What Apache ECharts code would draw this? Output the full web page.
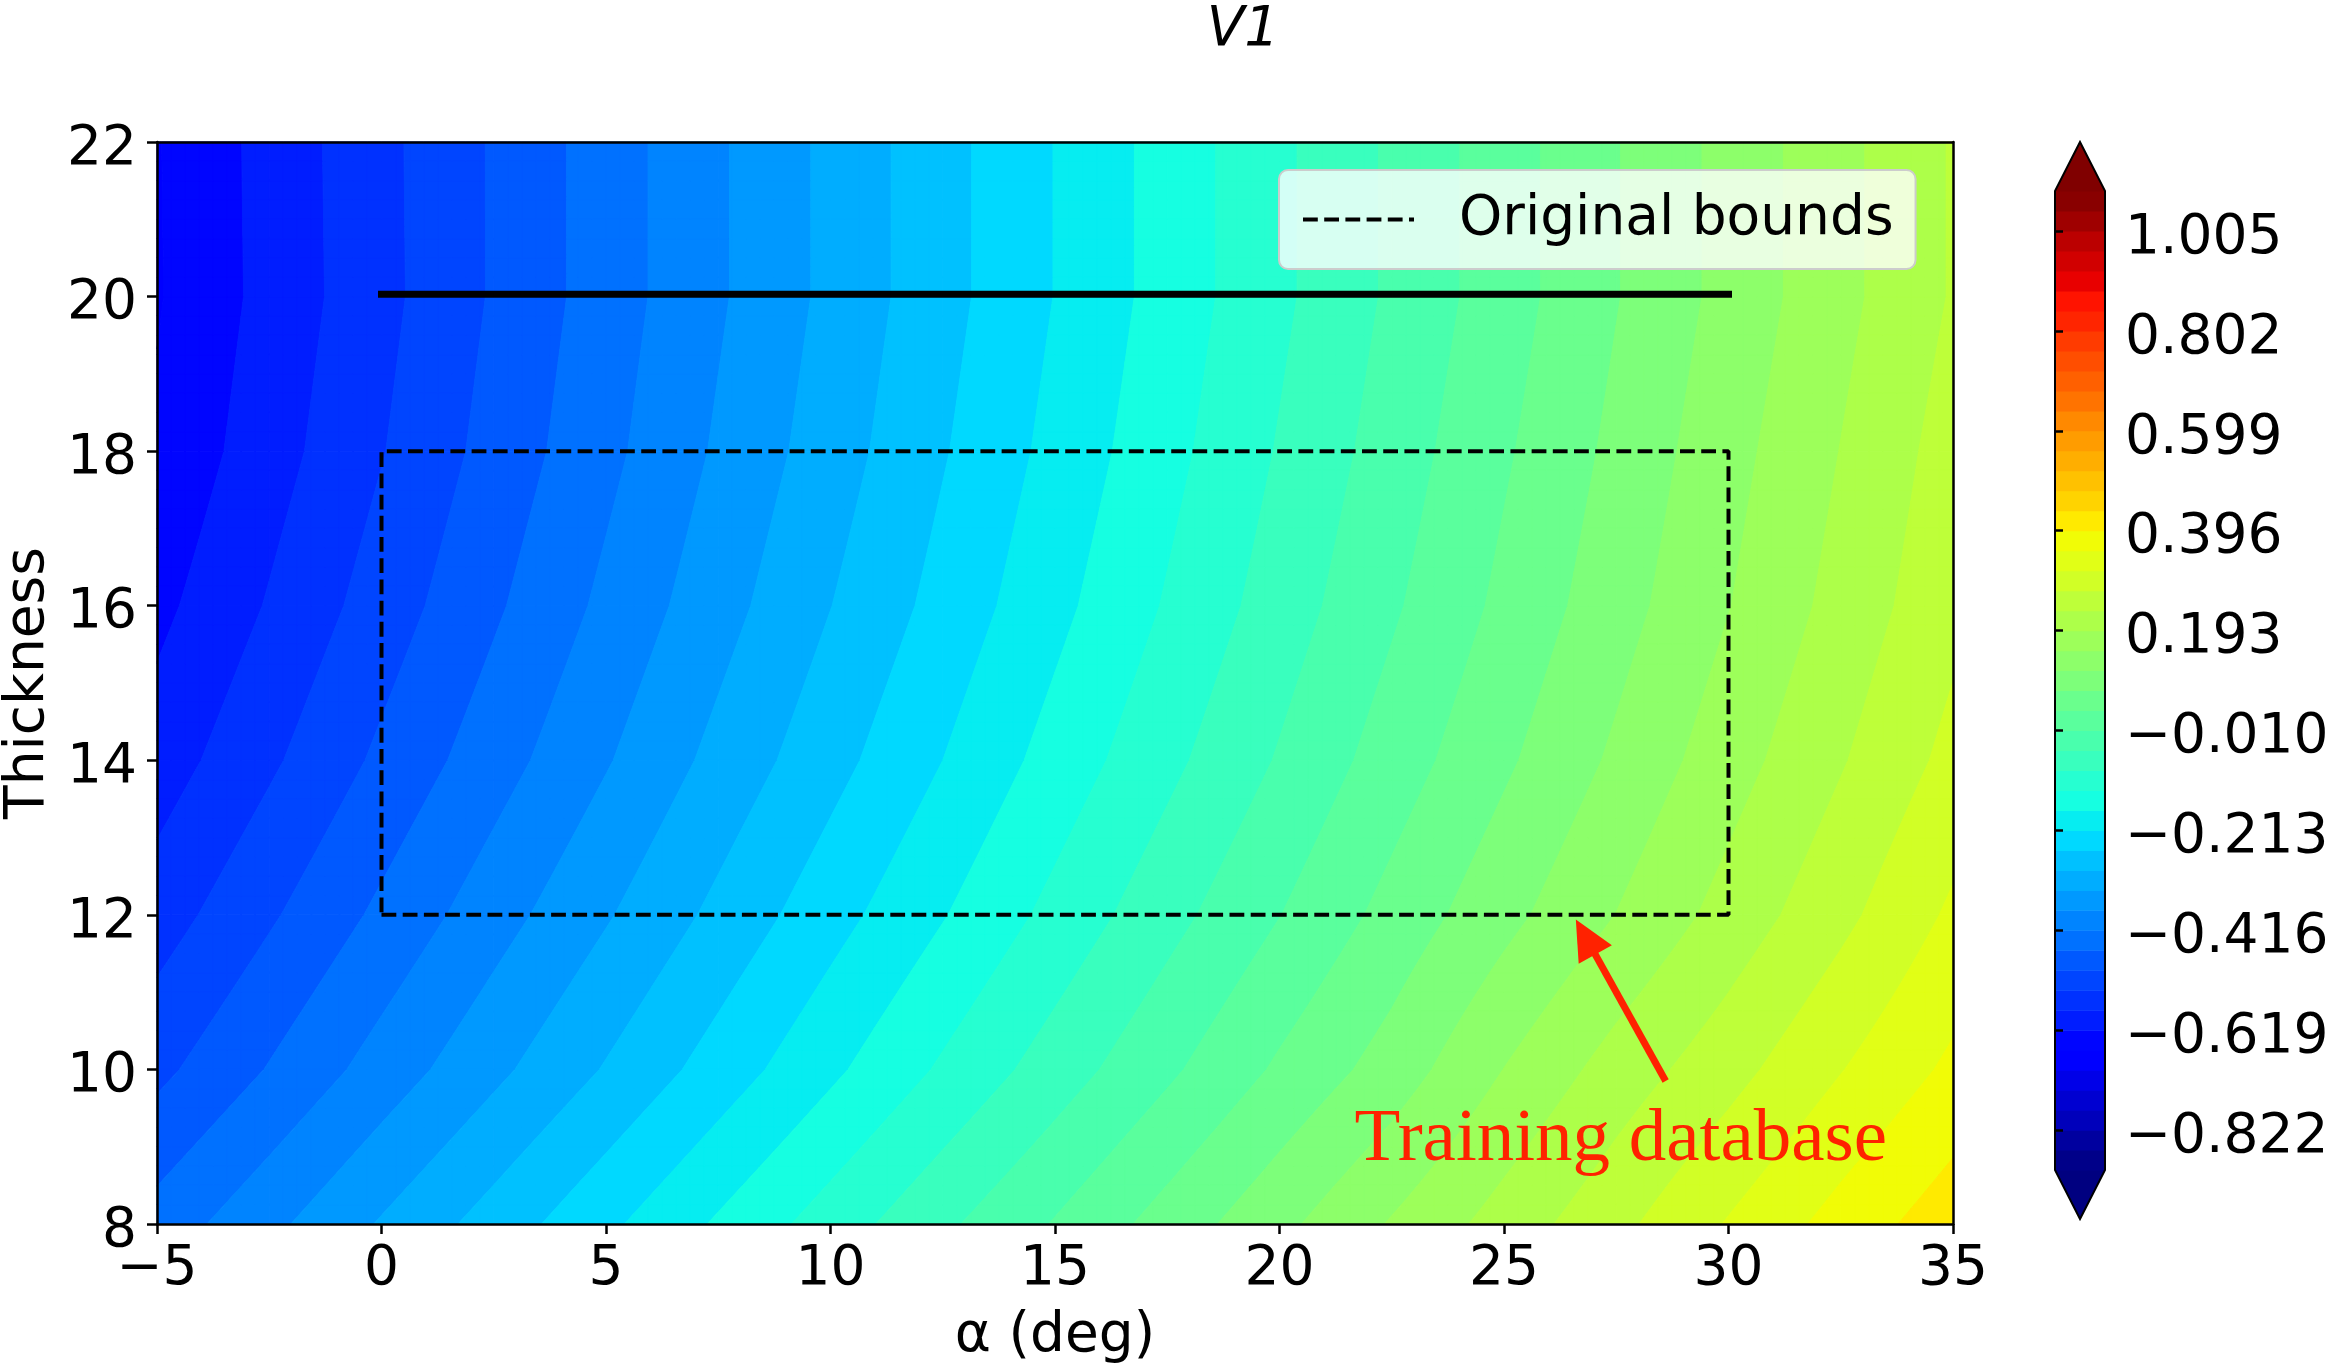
<!DOCTYPE html>
<html>
<head>
<meta charset="utf-8">
<script src="https://cdn.jsdelivr.net/npm/echarts@6/dist/echarts.min.js"></script>
<style>
html,body{margin:0;padding:0;background:#ffffff;}
#chart{width:2336px;height:1364px;}
</style>
</head>
<body>
<div id="chart"></div>
<script>
// ---------------- data ----------------
const alphaGrid = [-5, -2.5, 0, 2.5, 5, 7.5, 10, 12.5, 15, 17.5, 20, 22.5, 25, 27.5, 30, 32.5, 35];
const thicknessGrid = [8, 10, 12, 14, 16, 18, 20, 22];

// V1 values on the grid (one array per thickness row, along alphaGrid)
const v1AtT8  = [-0.440, -0.386, -0.331, -0.277, -0.222, -0.167, -0.113, -0.059, -0.007, 0.047, 0.101, 0.156, 0.210, 0.263, 0.318, 0.371, 0.420];
const v1AtT10 = [-0.508, -0.454, -0.399, -0.345, -0.291, -0.236, -0.181, -0.126, -0.072, -0.018, 0.037, 0.089, 0.153, 0.210, 0.259, 0.313, 0.364];
const v1AtT12 = [-0.558, -0.503, -0.448, -0.393, -0.339, -0.284, -0.229, -0.175, -0.120, -0.065, -0.011, 0.044, 0.099, 0.153, 0.208, 0.263, 0.322];
const v1AtT14 = [-0.600, -0.545, -0.489, -0.434, -0.379, -0.323, -0.268, -0.213, -0.157, -0.102, -0.047, 0.009, 0.064, 0.119, 0.175, 0.230, 0.286];
const v1AtT16 = [-0.630, -0.575, -0.519, -0.463, -0.407, -0.351, -0.295, -0.240, -0.184, -0.128, -0.072, -0.016, 0.040, 0.095, 0.151, 0.207, 0.263];
const v1AtT18 = [-0.653, -0.596, -0.540, -0.483, -0.427, -0.370, -0.314, -0.257, -0.201, -0.145, -0.088, -0.032, 0.025, 0.081, 0.138, 0.194, 0.251];
const v1AtT20 = [-0.663, -0.606, -0.550, -0.493, -0.437, -0.381, -0.325, -0.268, -0.212, -0.156, -0.100, -0.044, 0.012, 0.069, 0.125, 0.181, 0.237];
const v1AtT22 = [-0.662, -0.605, -0.549, -0.493, -0.437, -0.381, -0.325, -0.268, -0.212, -0.156, -0.100, -0.044, 0.012, 0.069, 0.125, 0.181, 0.237];
const v1Rows = [v1AtT8, v1AtT10, v1AtT12, v1AtT14, v1AtT16, v1AtT18, v1AtT20, v1AtT22];

// contour levels / colorbar
const levelMin = -0.9032;
const levelMax = 1.0862;
const levelBands = 49;
const colorbarTicks = [-0.822, -0.619, -0.416, -0.213, -0.010, 0.193, 0.396, 0.599, 0.802, 1.005];

// annotations
const boundsAlpha = [0, 30, 30, 0, 0];
const boundsThickness = [12, 12, 18, 18, 12];
const solidAlpha = [0, 30];
const solidThickness = [20.03, 20.03];
const arrowTail = [28.6, 9.85];
const arrowTip = [26.6, 11.94];
const noteText = 'Training database';
const notePos = [27.6, 9.08];

// ---------------- helpers ----------------
const FONT = 'DejaVu Sans';
const levelStep = (levelMax - levelMin) / levelBands;
function levelValue(k) { return levelMin + k * levelStep; }

const JET_R = [[0, 0], [0.35, 0], [0.66, 1], [0.89, 1], [1, 0.5]];
const JET_G = [[0, 0], [0.125, 0], [0.375, 1], [0.64, 1], [0.91, 0], [1, 0]];
const JET_B = [[0, 0.5], [0.11, 1], [0.34, 1], [0.65, 0], [1, 0]];
function seg(pts, x) {
  for (let i = 1; i < pts.length; i++) {
    if (x <= pts[i][0]) {
      const a = pts[i - 1], b = pts[i];
      return a[1] + (b[1] - a[1]) * (x - a[0]) / (b[0] - a[0]);
    }
  }
  return pts[pts.length - 1][1];
}
function jet(x) {
  const idx = Math.min(255, Math.max(0, Math.floor(x * 256)));
  const s = idx / 255;
  return 'rgb(' + Math.round(255 * seg(JET_R, s)) + ',' + Math.round(255 * seg(JET_G, s)) + ',' + Math.round(255 * seg(JET_B, s)) + ')';
}
const bandColors = [];
for (let k = 0; k < levelBands; k++) bandColors.push(jet((k + 0.5) / levelBands));
const underColor = jet(0), overColor = jet(1);
function colorOfBand(k) { return k < 0 ? underColor : (k >= levelBands ? overColor : bandColors[k]); }
function bandOf(v) { return Math.max(-1, Math.min(levelBands, Math.floor((v - levelMin) / levelStep))); }

function clipPoly(poly, lev, keepAbove) {
  const out = [];
  for (let i = 0; i < poly.length; i++) {
    const a = poly[i], b = poly[(i + 1) % poly.length];
    const ina = keepAbove ? a[2] >= lev : a[2] <= lev;
    const inb = keepAbove ? b[2] >= lev : b[2] <= lev;
    if (ina) out.push(a);
    if (ina !== inb) {
      const t = (lev - a[2]) / (b[2] - a[2]);
      out.push([a[0] + t * (b[0] - a[0]), a[1] + t * (b[1] - a[1]), lev]);
    }
  }
  return out;
}

// cells of the grid
const cellData = [];
for (let j = 0; j < thicknessGrid.length - 1; j++) {
  for (let i = 0; i < alphaGrid.length - 1; i++) {
    cellData.push([alphaGrid[i], thicknessGrid[j], i, j]);
  }
}

function renderCell(params, api) {
  const i = api.value(2), j = api.value(3);
  const a0 = alphaGrid[i], a1 = alphaGrid[i + 1];
  const t0 = thicknessGrid[j], t1 = thicknessGrid[j + 1];
  const v00 = v1Rows[j][i], v10 = v1Rows[j][i + 1], v01 = v1Rows[j + 1][i], v11 = v1Rows[j + 1][i + 1];
  const P0 = api.coord([a0, t0]);
  const P1 = api.coord([a1, t1]);
  const S = 8;
  const pts = [];
  for (let q = 0; q <= S; q++) {
    for (let p = 0; p <= S; p++) {
      const u = p / S, w = q / S;
      pts.push([
        P0[0] + u * (P1[0] - P0[0]),
        P0[1] + w * (P1[1] - P0[1]),
        v00 * (1 - u) * (1 - w) + v10 * u * (1 - w) + v01 * (1 - u) * w + v11 * u * w
      ]);
    }
  }
  const paths = {};
  function add(k, poly) {
    let s = 'M' + poly[0][0].toFixed(2) + ' ' + poly[0][1].toFixed(2);
    for (let n = 1; n < poly.length; n++) s += 'L' + poly[n][0].toFixed(2) + ' ' + poly[n][1].toFixed(2);
    s += 'Z';
    paths[k] = (paths[k] || '') + s;
  }
  function doTri(tri) {
    let mn = Infinity, mx = -Infinity;
    for (const p of tri) { mn = Math.min(mn, p[2]); mx = Math.max(mx, p[2]); }
    const k0 = bandOf(mn), k1 = bandOf(mx);
    if (k0 === k1) { add(k0, tri); return; }
    for (let k = k0; k <= k1; k++) {
      let poly = tri;
      if (k > -1) poly = clipPoly(poly, levelValue(k), true);
      if (poly.length >= 3 && k < levelBands) poly = clipPoly(poly, levelValue(k + 1), false);
      if (poly.length >= 3) add(k, poly);
    }
  }
  for (let q = 0; q < S; q++) {
    for (let p = 0; p < S; p++) {
      const A = pts[q * (S + 1) + p], B = pts[q * (S + 1) + p + 1];
      const C = pts[(q + 1) * (S + 1) + p + 1], D = pts[(q + 1) * (S + 1) + p];
      doTri([A, B, C]);
      doTri([A, C, D]);
    }
  }
  const children = Object.keys(paths).map(function (k) {
    const c = colorOfBand(+k);
    return { type: 'path', shape: { pathData: paths[k] }, style: { fill: c, stroke: c, lineWidth: 1 } };
  });
  return { type: 'group', children: children };
}

// colorbar items: -1 = under triangle, 0..48 bands, 49 = over triangle, 50 = outline
const colorbarData = [];
for (let k = -1; k <= levelBands + 1; k++) colorbarData.push([0.5, levelValue(Math.max(0, Math.min(levelBands, k))), k]);
const extendFrac = 0.05;
function renderColorbar(params, api) {
  const k = api.value(2);
  const span = levelMax - levelMin;
  if (k >= 0 && k < levelBands) {
    const p0 = api.coord([0, levelValue(k)]);
    const p1 = api.coord([1, levelValue(k + 1)]);
    return { type: 'rect', shape: { x: p0[0], y: p1[1], width: p1[0] - p0[0], height: p0[1] - p1[1] + 0.6 },
      style: { fill: bandColors[k], stroke: null } };
  }
  const bl = api.coord([0, levelMin]), br = api.coord([1, levelMin]);
  const tl = api.coord([0, levelMax]), tr = api.coord([1, levelMax]);
  const bt = api.coord([0.5, levelMin - extendFrac * span]);
  const tt = api.coord([0.5, levelMax + extendFrac * span]);
  if (k === -1) {
    return { type: 'polygon', shape: { points: [[bl[0], bl[1] - 0.5], [br[0], br[1] - 0.5], bt] }, style: { fill: underColor } };
  }
  if (k === levelBands) {
    return { type: 'polygon', shape: { points: [[tl[0], tl[1] + 0.5], [tr[0], tr[1] + 0.5], tt] }, style: { fill: overColor } };
  }
  return { type: 'polygon', shape: { points: [bt, bl, tl, tt, tr, br] }, style: { fill: null, stroke: '#000', lineWidth: 2 }, z2: 10 };
}

function renderArrow(params, api) {
  const P = api.coord([api.value(0), api.value(1)]);
  const Q = api.coord([api.value(2), api.value(3)]);
  const dx = Q[0] - P[0], dy = Q[1] - P[1];
  const L = Math.sqrt(dx * dx + dy * dy);
  const ux = dx / L, uy = dy / L, nx = -uy, ny = ux;
  const headL = 40, headW = 19;
  const bx = Q[0] - ux * headL, by = Q[1] - uy * headL;
  const red = '#ff2200';
  const t = api.coord(notePos);
  return { type: 'group', children: [
    { type: 'line', shape: { x1: P[0], y1: P[1], x2: bx + ux * 4, y2: by + uy * 4 }, style: { stroke: red, lineWidth: 7 } },
    { type: 'polygon', shape: { points: [Q, [bx + nx * headW, by + ny * headW], [bx - nx * headW, by - ny * headW]] }, style: { fill: red } },
    { type: 'text', x: t[0], y: t[1], style: { text: noteText, fill: red, font: '75px "Liberation Serif"', align: 'center', verticalAlign: 'middle' } }
  ] };
}

const minusFmt = function (v) { return v < 0 ? '\u2212' + String(-v) : String(v); };
const yFmt = function (v) { return '{d|' + String(v) + '}'; };
const cbFmt = function (v) { return '{d|' + (v < 0 ? '\u2212' : '') + Math.abs(v).toFixed(3) + '}'; };
const tickText = { fontSize: 55, color: '#000', fontFamily: FONT };
const shiftedRich = { d: { fontSize: 55, color: '#000', fontFamily: FONT, padding: [15, 0, 0, 0] } };

const chart = echarts.init(document.getElementById('chart'), null, { renderer: 'canvas' });
chart.setOption({
  animation: false,
  backgroundColor: '#ffffff',
  title: {
    text: 'V1', left: 1238, top: -2, textAlign: 'center',
    textStyle: { fontSize: 55, fontStyle: 'italic', fontWeight: 'normal', fontFamily: FONT, color: '#000' }
  },
  legend: {
    data: ['Original bounds'],
    left: 1279, top: 170,
    padding: [22, 22, 22, 22],
    itemWidth: 111, itemHeight: 20,
    backgroundColor: 'rgba(255,255,255,0.8)',
    borderColor: '#cccccc', borderWidth: 2, borderRadius: 9,
    itemStyle: { opacity: 0 },
    lineStyle: { color: '#000', width: 4, type: [14.8, 6.4] },
    textStyle: { fontSize: 55, color: '#000', fontFamily: FONT, padding: [0, 0, 0, 40] },
    selectedMode: false
  },
  grid: [
    { left: 157, top: 142, width: 1796, height: 1082, outerBoundsMode: 'none', containLabel: false },
    { left: 2055, top: 191, width: 50, height: 979, outerBoundsMode: 'none', containLabel: false }
  ],
  xAxis: [
    { gridIndex: 0, type: 'value', min: -5, max: 35, interval: 5, position: 'bottom', z: 5,
      axisLine: { onZero: false, lineStyle: { color: '#000', width: 2.5 } },
      axisTick: { length: 10, lineStyle: { color: '#000', width: 2.5 } },
      axisLabel: Object.assign({ margin: 18, formatter: minusFmt }, tickText),
      splitLine: { show: false },
      name: '\u03b1 (deg)', nameLocation: 'middle', nameGap: 85,
      nameTextStyle: { fontSize: 55, color: '#000', fontFamily: FONT } },
    { gridIndex: 0, type: 'value', min: -5, max: 35, position: 'top', z: 5,
      axisLine: { onZero: false, lineStyle: { color: '#000', width: 2.5 } },
      axisTick: { show: false }, axisLabel: { show: false }, splitLine: { show: false } },
    { gridIndex: 1, type: 'value', min: 0, max: 1, show: false }
  ],
  yAxis: [
    { gridIndex: 0, type: 'value', min: 8, max: 22, interval: 2, position: 'left', z: 5,
      axisLine: { onZero: false, lineStyle: { color: '#000', width: 2.5 } },
      axisTick: { length: 10, lineStyle: { color: '#000', width: 2.5 } },
      axisLabel: Object.assign({ margin: 20, formatter: yFmt, rich: shiftedRich }, tickText),
      splitLine: { show: false },
      name: 'Thickness', nameLocation: 'middle', nameRotate: 90, nameGap: 99,
      nameTextStyle: { fontSize: 55, color: '#000', fontFamily: FONT } },
    { gridIndex: 0, type: 'value', min: 8, max: 22, position: 'right', z: 5,
      axisLine: { onZero: false, lineStyle: { color: '#000', width: 2.5 } },
      axisTick: { show: false }, axisLabel: { show: false }, splitLine: { show: false } },
    { gridIndex: 1, type: 'value', min: levelMin, max: levelMax, position: 'right', z: 5,
      axisLine: { show: false },
      axisTick: { show: true, customValues: colorbarTicks, length: 8, lineStyle: { color: '#000', width: 2.5 } },
      axisLabel: Object.assign({ customValues: colorbarTicks, margin: 20, formatter: cbFmt, rich: shiftedRich }, tickText),
      splitLine: { show: false } }
  ],
  series: [
    { type: 'custom', name: 'V1', xAxisIndex: 0, yAxisIndex: 0, z: 1, silent: true,
      data: cellData, encode: { x: 0, y: 1 }, renderItem: renderCell },
    { type: 'line', name: 'Original bounds', xAxisIndex: 0, yAxisIndex: 0, z: 3,
      data: boundsAlpha.map(function (a, i) { return [a, boundsThickness[i]]; }),
      symbol: 'none', silent: true,
      itemStyle: { color: 'rgba(0,0,0,0)' },
      lineStyle: { color: '#000', width: 4, type: [14.8, 6.4] } },
    { type: 'line', name: 'Thickness 20', xAxisIndex: 0, yAxisIndex: 0, z: 3,
      data: solidAlpha.map(function (a, i) { return [a, solidThickness[i]]; }),
      symbol: 'none', silent: true,
      lineStyle: { color: '#000', width: 7, cap: 'square' } },
    { type: 'custom', name: 'annotation', xAxisIndex: 0, yAxisIndex: 0, z: 4, silent: true,
      data: [[arrowTail[0], arrowTail[1], arrowTip[0], arrowTip[1]]], encode: { x: [0, 2], y: [1, 3] },
      renderItem: renderArrow },
    { type: 'custom', name: 'colorbar', xAxisIndex: 2, yAxisIndex: 2, z: 2, silent: true, clip: false,
      data: colorbarData, encode: { x: 0, y: 1 }, renderItem: renderColorbar }
  ]
});
</script>
</body>
</html>
